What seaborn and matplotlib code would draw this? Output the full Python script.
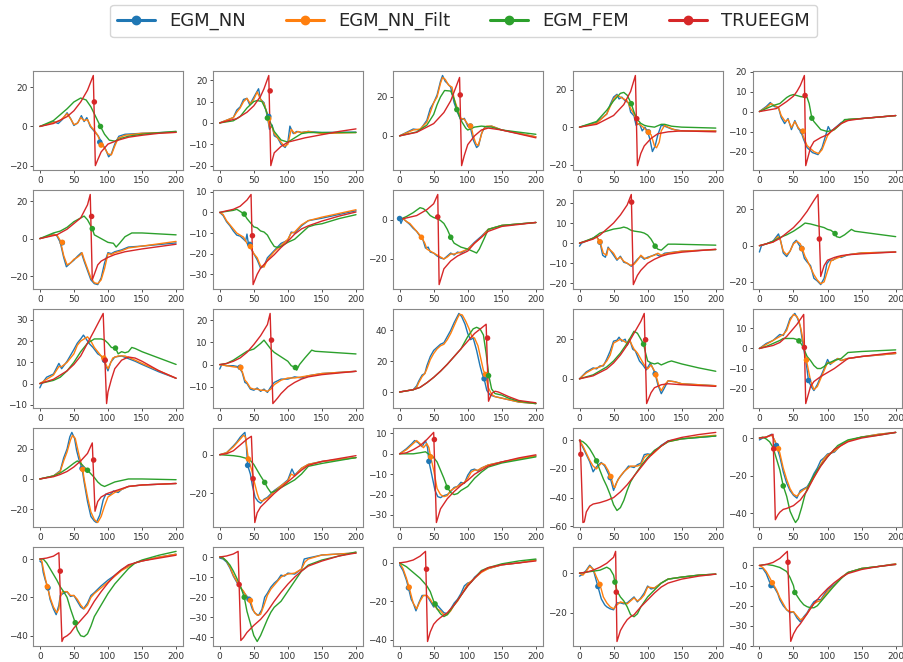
import numpy as np
import pandas as pd
import matplotlib.pyplot as plt
import seaborn as sns
from matplotlib.lines import Line2D

series = ["EGM_NN", "EGM_NN_Filt", "EGM_FEM", "TRUEEGM"]

# ---- row 1 ----
nn_11 = [(0, 0), (10, 1), (20, 2.5), (27, 1.5), (33, 3.5), (40, 7), (46, 3.5), (50, 0.5), (56, 2), (61, 5.5), (65, 2.5), (69, 4.5), (74, 0), (80, -2.5), (86, -5), (92, -9), (97, -12), (101, -15.5), (105, -14), (110, -9), (116, -5), (125, -4), (150, -3.5), (200, -2.8)]
filt_11 = [(0, 0), (10, 1), (20, 2), (30, 3), (40, 6.5), (45, 4), (50, 1), (55, 1.5), (60, 4.5), (65, 3), (70, 3.5), (75, 0), (80, -2), (85, -4.5), (90, -9), (95, -11), (100, -14), (105, -14.5), (110, -10), (115, -6), (125, -4.5), (150, -3.5), (200, -3)]
fem_11 = [(0, 0), (20, 3), (40, 9), (50, 12.5), (60, 14.5), (68, 13.5), (75, 10), (82, 5), (89, 0), (95, -4), (102, -7), (110, -7.5), (120, -6), (130, -5), (150, -4), (175, -3.2), (200, -2.5)]
true_11 = [(0, 0), (20, 1.5), (40, 5), (50, 8), (60, 12.5), (70, 18.5), (78.5, 26), (81.5, -20), (85, -17), (90, -13), (100, -9), (115, -7), (130, -5.5), (150, -4.5), (175, -3.5), (200, -3)]
marks_11 = [(88, -8), (90, -9.5), (89, 0), (80, 12.5)]
yticks_11 = [-20, 0, 20]

nn_12 = [(0, 0), (20, 2.5), (25, 6), (30, 7.5), (35, 11), (40, 11.5), (44, 8.5), (50, 12), (57, 16), (60, 11), (65, 9.5), (70, 3), (73, -3), (77, -1), (80, -6), (85, -7), (90, -10), (96, -11.5), (100, -9), (103, -1.5), (108, -5), (113, -4), (120, -4.5), (130, -4), (150, -4.5), (200, -4.3)]
filt_12 = [(0, 0), (20, 2.5), (25, 5), (30, 7), (35, 10), (40, 11.5), (45, 9), (50, 11), (55, 14.5), (60, 11), (65, 9), (70, 4), (73, -2), (77, -2), (80, -5), (85, -7), (90, -9), (95, -11), (100, -10), (105, -3), (110, -5), (115, -4), (120, -4.5), (130, -4), (150, -5), (200, -4.5)]
fem_12 = [(0, 0), (20, 1), (30, 3), (40, 7), (50, 10), (55, 10.5), (62, 10), (68, 6), (72, 2), (80, -4), (90, -8), (100, -9), (110, -7), (120, -5), (130, -4.5), (150, -4.5), (200, -4.5)]
true_12 = [(0, 0), (25, 2), (40, 5), (50, 8), (60, 12.5), (65, 16), (72, 22.2), (75, -20), (80, -14), (90, -11), (100, -9), (125, -7), (150, -5.5), (175, -4), (200, -2.8)]
marks_12 = [(72, 3), (72, 2), (70, 2.3), (74, 15)]
yticks_12 = [-20, -10, 0, 10, 20]

nn_13 = [(0, 0), (20, 3.5), (30, 3), (40, 8), (45, 14), (50, 17), (55, 21), (60, 28), (63, 31), (67, 28), (70, 27), (75, 25), (80, 17), (85, 12), (90, 8), (95, 9), (100, 5), (104, 4), (108, -2), (113, -6), (116, -5), (120, 1), (125, 4.5), (135, 5), (150, 3), (200, -0.5)]
filt_13 = [(0, 0), (20, 3), (30, 3.5), (40, 7), (45, 12), (50, 17), (55, 20), (60, 27), (63, 30), (67, 29), (72, 26), (77, 25), (80, 19), (85, 14), (90, 9), (95, 8.5), (100, 6), (105, 5), (108, 0), (112, -4), (115, -5), (118, -2), (122, 3), (128, 5), (135, 5), (150, 3), (200, -0.5)]
fem_13 = [(0, 0), (25, 2), (40, 5.5), (50, 11), (55, 16), (60, 20), (66, 23.3), (75, 23), (80, 19), (84, 13.5), (90, 8), (97, 4), (100, 3), (110, 4.5), (120, 5), (135, 4.5), (150, 3), (200, 0.8)]
true_13 = [(0, 0), (25, 1.8), (50, 6.3), (65, 12), (75, 18), (88, 30), (91, -15.3), (95, -10), (100, -4.5), (110, 0), (120, 3), (130, 4), (150, 3), (175, 1), (200, -1)]
marks_13 = [(104, 5), (104, 5), (84, 13.5), (89, 21)]
yticks_13 = [0, 20]

nn_14 = [(0, 0), (25, 2.5), (40, 7), (45, 12), (50, 16), (55, 17.5), (58, 15), (62, 16), (67, 14), (72, 13), (75, 8), (80, 6), (83, 1), (88, 2), (92, -2), (96, 0), (100, -2.5), (103, -6), (107, -13), (111, -10), (115, -4), (120, 1), (125, 0.5), (135, -1), (150, -2), (200, -2)]
filt_14 = [(0, 0), (25, 2), (40, 7), (45, 11), (50, 15), (55, 17), (60, 16), (65, 15), (70, 14), (75, 10), (80, 7), (85, 2), (90, 1), (95, -0.5), (100, -2.5), (105, -4), (110, -10), (113, -11), (117, -8), (120, -2), (125, 1), (130, 0), (140, -1.5), (150, -2), (200, -2)]
fem_14 = [(0, 0), (25, 3), (40, 9), (50, 14), (60, 18), (65, 18.5), (70, 17), (76, 12.5), (80, 8), (85, 4), (90, 2), (95, 1), (100, 0.5), (110, 0), (120, 1.5), (125, 1.5), (135, 0.5), (150, 0), (200, -0.5)]
true_14 = [(0, 0), (25, 1.5), (50, 6.2), (65, 12), (75, 19), (82, 27.5), (85, -20.5), (90, -14), (95, -10), (105, -6), (115, -3.5), (130, -2.5), (150, -2), (200, -2.5)]
marks_14 = [(101, -2.5), (101, -2.7), (76, 12.5), (84, 4.5)]
yticks_14 = [-20, 0, 20]

nn_15 = [(0, 0), (10, 2.5), (16, 4.5), (22, 2.5), (28, 2), (32, -3), (37, -6), (42, -3.5), (47, -9), (52, -4.5), (57, -8.5), (61, -10), (65, -14), (70, -18), (78, -20.5), (86, -21.5), (92, -18), (98, -11), (101, -7.5), (105, -10), (110, -8.5), (120, -5.5), (130, -4), (150, -3.5), (200, -2)]
filt_15 = [(0, 0), (10, 2), (17, 4), (22, 3), (28, 2), (32, -2), (38, -5), (42, -4), (47, -8), (52, -5), (57, -8), (62, -10), (65, -13), (70, -17), (80, -20), (87, -21), (92, -19), (100, -12), (105, -10), (110, -9), (120, -6), (130, -4), (150, -3.5), (200, -2)]
fem_15 = [(0, 0), (20, 3), (30, 4), (40, 7), (45, 8), (50, 8.5), (60, 7.5), (70, 7), (73, 4), (77, -3.3), (80, -5), (90, -9), (100, -10), (110, -9), (120, -6), (125, -4), (150, -3.5), (200, -2)]
true_15 = [(0, 0), (25, 1.5), (40, 5), (50, 7.7), (55, 10), (60, 13), (66, 18), (68, -27), (75, -18), (80, -15), (90, -13), (100, -11.5), (110, -8.5), (120, -6), (130, -4.5), (150, -3.5), (200, -2)]
marks_15 = [(63, -10), (64, -9.8), (77, -3.3), (67, 8)]
yticks_15 = [-20, -10, 0, 10, 20]

# ---- row 2 ----
nn_21 = [(0, 0), (10, 1), (20, 2.5), (25, 1.5), (30, -2), (35, -10), (39, -15), (45, -13), (50, -11.5), (55, -9.5), (61, -7.5), (65, -12), (70, -17), (75, -22), (80, -24), (85, -24.5), (90, -21), (95, -13), (100, -7.5), (105, -8), (110, -7), (120, -6), (130, -4.5), (150, -4), (200, -2.3)]
filt_21 = [(0, 0), (10, 1), (20, 2), (25, 2), (30, -1), (35, -9), (40, -14), (45, -13), (50, -11), (55, -10), (60, -8.5), (62, -7.5), (65, -11), (70, -16), (75, -21), (80, -23.5), (85, -24), (90, -22), (95, -16), (100, -8), (105, -8.5), (110, -7.5), (120, -6.5), (130, -5), (150, -4), (200, -1.5)]
fem_21 = [(0, 0), (20, 3), (30, 4), (40, 6), (50, 9), (60, 11), (65, 12), (70, 10), (73, 8), (77, 5.3), (80, 2), (90, 0), (100, -2), (108, -2.5), (112, -4.5), (117, -2.5), (125, 1), (135, 3), (150, 3), (200, 2)]
true_21 = [(0, 0), (25, 2), (40, 5), (50, 8), (60, 11), (70, 18), (74, 23.5), (77, -22), (85, -14), (90, -12), (100, -10), (110, -8.5), (125, -7), (150, -5.5), (200, -3)]
marks_21 = [(33, -2.2), (33, -2), (77, 5.3), (76, 11.8)]
yticks_21 = [-20, 0, 20]

nn_22 = [(0, 0), (5, -1.5), (10, -4.5), (15, -6.5), (20, -9), (25, -11), (30, -11.5), (35, -13), (38, -14), (40, -10.5), (42, -15), (45, -17), (50, -20), (55, -23), (60, -27), (65, -26), (70, -22), (80, -18.5), (90, -15), (100, -13.5), (105, -9.5), (110, -10), (120, -6.5), (130, -4), (150, -2.8), (200, 0.8)]
filt_22 = [(0, 0), (5, -1), (10, -4), (15, -6), (20, -8), (25, -10), (30, -11), (35, -12), (40, -15), (45, -16.5), (50, -20), (55, -22), (60, -26), (65, -26.5), (70, -23), (80, -19), (90, -16), (100, -13), (105, -10), (110, -9.5), (120, -6), (130, -4), (150, -2.3), (175, -0.5), (200, 1.3)]
fem_22 = [(0, 0), (10, 0.5), (20, 1), (25, 1.5), (30, 0.5), (36, -0.8), (40, -3), (45, -5), (50, -7), (55, -7.5), (60, -9), (65, -9.5), (70, -11), (75, -14), (80, -16.5), (85, -17), (90, -16.5), (95, -15.5), (100, -14.5), (110, -13), (120, -10), (130, -7), (140, -6), (150, -5.5), (175, -3), (200, -1.1)]
true_22 = [(0, 0), (20, 1.5), (30, 3), (40, 6), (46, 8.7), (49, -35), (55, -30), (60, -27), (70, -23.5), (80, -20.5), (90, -17), (100, -14), (110, -10.5), (120, -8), (130, -6.5), (150, -4.2), (175, -1.8), (200, 0.2)]
marks_22 = [(44, -15.5), (45, -16.5), (36, -0.8), (48, -11.3)]
yticks_22 = [-30, -20, -10, 0, 10]

nn_23 = [(0, 0.5), (2, -2), (5, 0.5), (10, -1), (15, -2.5), (20, -4.5), (25, -6), (30, -8.5), (34, -10), (38, -14.5), (42, -14), (45, -16.5), (50, -17), (55, -18.5), (60, -19.5), (65, -20), (70, -18.5), (75, -17), (80, -18), (85, -16.5), (90, -17), (100, -15), (110, -11.5), (120, -8.5), (130, -5), (150, -3), (200, -1.5)]
filt_23 = [(0, 0), (5, 0.5), (10, -1), (15, -2), (20, -4), (25, -6), (30, -8), (33, -9.5), (37, -12), (40, -15), (45, -16), (50, -17), (55, -18), (60, -19), (65, -20), (70, -19), (75, -17.5), (80, -17.5), (90, -16.5), (100, -15), (110, -12), (120, -9), (130, -5), (150, -3), (200, -1.5)]
fem_23 = [(0, 0), (10, 1.5), (20, 3.5), (30, 6), (35, 5.5), (40, 4), (45, 2), (50, 1), (55, 0.5), (60, -0.5), (65, -2), (70, -5), (75, -9), (80, -12), (90, -14), (100, -15), (110, -16.5), (113, -17), (117, -15), (125, -9), (130, -5), (140, -4), (150, -3), (200, -1.5)]
true_23 = [(0, 0), (25, 2), (40, 5), (50, 8), (56, 12.7), (58, -33), (65, -25), (75, -21), (85, -18.5), (100, -16), (110, -12), (120, -9), (130, -6), (150, -3.5), (200, -1.5)]
marks_23 = [(0, 0.5), (32, -9), (75, -9), (56, 1.3)]
yticks_23 = [-20, 0]

nn_24 = [(0, -1.5), (3, 0), (10, 1), (20, 2.5), (25, 3.5), (30, 0.5), (34, -6), (38, -7), (42, -2), (46, -4), (50, -6), (55, -8.5), (60, -6.5), (65, -9.5), (70, -10), (76, -11.5), (80, -10), (85, -8), (90, -6.5), (95, -8), (100, -7), (105, -6.5), (112, -5.5), (118, -6.5), (125, -5), (150, -4), (200, -3.2)]
filt_24 = [(0, 0), (10, 1), (20, 2.5), (25, 3), (30, 0.7), (35, -5), (40, -6), (42, -2.5), (47, -4), (50, -5), (55, -8), (60, -7), (65, -9), (70, -10), (75, -11), (80, -10.5), (85, -8.5), (90, -6), (95, -7.5), (100, -7.5), (105, -6.5), (110, -6), (115, -5), (120, -6), (130, -5), (150, -4), (200, -3.2)]
fem_24 = [(0, 0), (20, 2.5), (30, 5), (40, 6), (50, 7), (60, 7.5), (65, 8), (70, 7.5), (75, 6.5), (80, 6), (90, 5.5), (95, 5), (100, 4), (105, 2), (111, -1.5), (115, -3), (120, -3.5), (125, -2), (130, -0.5), (140, -0.5), (200, -1)]
true_24 = [(0, 0), (20, 2), (30, 4), (40, 7), (50, 10), (60, 14), (70, 19), (76, 24.2), (79, -20.6), (85, -16), (90, -13.5), (100, -10), (110, -8), (120, -6.5), (130, -5.5), (150, -4.5), (200, -3)]
marks_24 = [(30, 0.5), (30, 0.7), (111, -1.5), (76.5, 20.4)]
yticks_24 = [-20, -10, 0, 10, 20]

nn_25 = [(0, -3.5), (3, 0), (10, 1), (20, 2.5), (28, 6.5), (31, 3), (35, -4), (40, -6), (45, -3), (50, 1.5), (54, 3), (58, 0.5), (62, -1.5), (66, -7), (70, -9), (75, -11), (80, -18), (85, -19.5), (90, -21.5), (95, -18), (99, -10), (103, -8), (108, -8), (115, -6), (120, -6.5), (130, -5), (150, -4), (200, -3.5)]
filt_25 = [(0, 0), (10, 1), (20, 2), (27, 5), (30, 4), (35, -3), (40, -5), (45, -3), (50, 1), (55, 2.5), (60, 1), (63, -1.7), (67, -6), (70, -8), (75, -12), (80, -16), (85, -19), (90, -21), (95, -20), (100, -14), (105, -8.5), (110, -7.5), (120, -6), (130, -5), (150, -4), (200, -3.5)]
fem_25 = [(0, 0), (10, 1), (20, 2.5), (30, 4.5), (40, 6), (50, 8), (60, 10.5), (67, 12.5), (75, 12), (85, 11), (95, 10), (100, 9), (105, 8.5), (111, 6.7), (113, 5), (118, 4.5), (125, 6), (130, 7.5), (135, 9), (140, 8), (160, 7), (180, 6), (200, 5)]
true_25 = [(0, 0), (20, 2), (30, 4), (40, 7), (50, 10), (60, 14), (70, 19), (80, 25), (86, 28.3), (90, -17), (95, -11), (100, -8), (110, -6.5), (120, -5.5), (130, -5), (150, -4.5), (200, -3.5)]
marks_25 = [(62, -1.5), (62.5, -1.7), (111, 6.7), (88, 3.7)]
yticks_25 = [-20, 0, 20]

# ---- row 3 ----
nn_31 = [(0, -2), (3, 0), (10, 3), (20, 4.5), (28, 9.5), (32, 7), (40, 10.5), (50, 16), (55, 19), (60, 21), (64, 22.8), (68, 21), (72, 19), (78, 17), (85, 14), (90, 13), (95, 10), (100, 6), (104, 10), (110, 12.5), (120, 13), (140, 10.5), (150, 9), (175, 5.5), (200, 2.5)]
filt_31 = [(0, 0), (10, 2), (20, 4), (28, 8), (32, 8), (40, 10), (50, 14), (55, 18), (60, 20), (65, 21), (70, 22), (75, 20), (80, 17), (85, 15), (90, 13), (94, 12), (97, 9), (100, 7), (103, 9), (107, 12), (115, 13), (125, 13), (140, 11), (150, 9.5), (175, 6), (200, 2.5)]
fem_31 = [(0, 0), (20, 1.5), (30, 3), (40, 6), (50, 10), (60, 15), (70, 19), (80, 21), (90, 21), (95, 20.5), (100, 19), (105, 17), (111, 16.7), (115, 14), (120, 15), (125, 14.5), (130, 15), (135, 17), (140, 16.5), (150, 15), (175, 12), (200, 9)]
true_31 = [(0, 0), (20, 2), (30, 4), (40, 6), (50, 9), (60, 13), (70, 19), (80, 25), (93, 33), (98, -9.4), (100, -4), (105, 2), (110, 7), (120, 11), (130, 12.5), (140, 12), (150, 10.5), (175, 6), (200, 2.5)]
marks_31 = [(95, 11), (94, 12), (111, 16.7), (96, 11)]
yticks_31 = [-10, 0, 10, 20, 30]

nn_32 = [(0, -2), (3, 0), (10, -0.5), (20, -0.5), (28, -1), (33, -3.5), (37, -8), (40, -8.5), (45, -11), (50, -11.5), (55, -10.5), (60, -12), (65, -11), (70, -12.5), (75, -10), (80, -8), (90, -6.5), (100, -6.5), (110, -5.5), (120, -6), (130, -5), (150, -4), (200, -3)]
filt_32 = [(0, 0), (10, -0.5), (20, -1), (28, -1.3), (33, -3), (37, -7), (40, -8), (45, -10.5), (50, -11), (55, -11), (60, -11.5), (65, -11.5), (70, -12), (75, -11), (80, -9), (90, -7), (100, -6), (110, -6), (120, -5.5), (130, -5), (150, -4), (200, -3)]
fem_32 = [(0, 0), (10, 0.5), (20, 2), (30, 4), (40, 6), (50, 7), (60, 9.5), (65, 11), (70, 9), (75, 7), (80, 5.5), (90, 3.5), (100, 1.5), (105, -0.5), (111, -1.3), (113, -2.5), (117, 0), (125, 3), (135, 6.5), (140, 6), (150, 5.8), (200, 4.8)]
true_32 = [(0, 0), (10, 0.5), (20, 1.5), (30, 3), (40, 5.5), (50, 9), (60, 13), (70, 18), (74, 23), (78, -17.5), (85, -15), (90, -13), (100, -10), (110, -8), (120, -6.5), (130, -5.5), (150, -4.5), (200, -3)]
marks_32 = [(30, -1.2), (31, -1.3), (111, -1.3), (76, 11)]
yticks_32 = [-10, 0, 10, 20]

nn_33 = [(0, 0), (20, 1.5), (25, 4), (28, 7), (33, 11), (37, 12), (40, 17), (45, 23), (50, 27), (55, 29), (60, 31), (65, 32), (70, 36), (75, 40), (80, 45), (87, 51), (91, 49), (96, 44), (100, 38), (104, 34), (108, 35), (113, 27), (118, 17), (121, 12), (124, 8.6), (128, 1), (133, -2), (140, -3), (150, -4), (175, -6.5), (200, -7.5)]
filt_33 = [(0, 0), (20, 1.5), (25, 3), (28, 6), (33, 10), (37, 12), (40, 15), (45, 21), (50, 25), (55, 28), (60, 30), (65, 31), (70, 34), (75, 38), (80, 43), (85, 48), (88, 50.5), (92, 50), (97, 46), (102, 41), (106, 36), (110, 35), (115, 30), (120, 20), (123, 14), (126, 11.4), (130, 3), (135, -1.5), (140, -3), (150, -4), (160, -5), (175, -6.5), (200, -7.5)]
fem_33 = [(0, 0), (20, 1.5), (30, 3), (40, 6), (50, 9.5), (60, 13.5), (70, 18), (80, 23), (90, 28), (100, 36), (108, 41), (113, 42), (118, 41), (123, 37), (127, 25), (131, 10.5), (135, 2), (140, -1), (150, -2), (160, -4), (175, -6), (200, -7.5)]
true_33 = [(0, 0), (20, 1.5), (30, 3), (40, 6), (50, 9.5), (60, 13.5), (70, 18), (80, 23), (90, 28), (100, 33), (110, 38), (120, 41.5), (127, 44), (130.5, -6), (135, -1), (140, 0.5), (145, 0), (150, -1), (160, -3), (175, -5.5), (200, -7)]
marks_33 = [(124, 8.6), (126, 11.4), (130.5, 10.6), (129, 35)]
yticks_33 = [0, 20, 40]

nn_34 = [(0, 0), (10, 3.5), (20, 5.5), (25, 5), (30, 6.5), (35, 6.5), (40, 10), (45, 14), (50, 19), (55, 19.5), (58, 21), (62, 19), (67, 20), (70, 17), (74, 19.5), (78, 15), (82, 14), (88, 9), (93, 7), (98, 4.5), (104, 8), (108, 5), (111, 2.5), (115, -3), (120, -7.5), (124, -5), (130, -1), (140, -1.5), (150, -2.5), (200, -3.5)]
filt_34 = [(0, 0), (10, 3), (20, 5), (25, 5.5), (30, 6), (35, 7), (40, 9), (45, 12), (50, 18), (55, 19), (60, 20), (65, 19), (70, 18), (73, 20), (77, 17), (80, 15), (85, 13), (90, 10), (95, 7), (100, 5), (105, 7), (110, 4), (112, 2), (117, -4), (120, -6), (125, -3), (130, -1), (140, -1.5), (150, -2.5), (200, -3.5)]
fem_34 = [(0, 0), (20, 2), (30, 4), (40, 6), (50, 9), (60, 13), (70, 18), (75, 21), (80, 24), (85, 23), (90, 20), (94, 17.5), (97, 13), (100, 9), (105, 8), (110, 7.5), (115, 8), (120, 7), (130, 8.5), (135, 9), (150, 7.5), (175, 5.5), (200, 3.8)]
true_34 = [(0, 0), (20, 1.5), (40, 5), (50, 8), (60, 12), (70, 17), (80, 23), (90, 29), (95, 33), (98.5, -12.5), (105, -7), (110, -4.5), (120, -3), (130, -2.5), (150, -3), (200, -3.8)]
marks_34 = [(111, 2.5), (112, 2), (94, 17.5), (97, 19.7)]
yticks_34 = [0, 20]

nn_35 = [(0, 0), (10, 2.5), (20, 4), (30, 7), (35, 6.5), (40, 10), (45, 15), (52, 17.5), (56, 15), (60, 11), (63, 4), (66, -2), (69, -8), (72, -16), (76, -19), (80, -21), (85, -18), (90, -14), (95, -10), (100, -5.5), (104, -8), (110, -6), (115, -5), (120, -6), (130, -5), (150, -4), (200, -2.5)]
filt_35 = [(0, 0), (10, 2), (20, 4), (30, 6), (35, 7), (40, 9), (45, 14), (50, 17), (55, 16), (58, 14), (62, 8), (65, 2), (67, -3), (69, -5.8), (75, -16), (80, -20.5), (85, -19), (90, -15), (95, -11), (100, -7), (105, -7.5), (110, -6.5), (115, -5), (120, -6), (130, -5), (150, -4), (200, -2.5)]
fem_35 = [(0, 0), (10, 1), (20, 2.5), (30, 4), (35, 5), (40, 5), (50, 5), (55, 4.5), (58, 3.8), (62, 2), (65, 0), (70, -4), (75, -6), (80, -8.5), (85, -10), (90, -10), (95, -9), (100, -7.5), (110, -6), (120, -5), (130, -2), (150, -1.5), (200, -0.7)]
true_35 = [(0, 0), (20, 1.5), (30, 3), (40, 6), (50, 10), (55, 12), (60, 14.5), (65, 17), (68, -27.5), (75, -19), (80, -16.5), (90, -14), (100, -12), (110, -10), (120, -7.5), (130, -5), (150, -4), (175, -3), (200, -2)]
marks_35 = [(72, -16), (69, -5.8), (58, 3.8), (66, 0.5)]
yticks_35 = [-20, -10, 0, 10]

# ---- row 4 ----
nn_41 = [(0, 0), (20, 2), (30, 5.5), (35, 14), (40, 20), (44, 28), (47, 31), (51, 27), (54, 19), (58, 12), (62, 7), (65, -2), (70, -15), (75, -25), (80, -28), (83, -29), (88, -24), (93, -14), (97, -10), (103, -10.5), (108, -8), (115, -9), (120, -7), (130, -5), (150, -4), (200, -3)]
filt_41 = [(0, 0), (20, 2), (30, 5), (35, 12), (40, 18), (45, 26), (48, 29), (52, 27), (55, 21), (58, 15), (63, 6.4), (65, 0), (70, -12), (75, -22), (80, -27), (85, -29), (90, -25), (95, -18), (100, -12), (110, -9), (120, -7), (130, -5), (150, -4), (200, -3)]
fem_41 = [(0, 0), (20, 2), (30, 4), (40, 7), (50, 10.5), (55, 12), (60, 10.5), (65, 8), (70, 5.8), (80, 1), (85, -2), (90, -4), (95, -5), (100, -4), (110, -2), (120, -1), (130, 0), (150, 0), (200, -0.5)]
true_41 = [(0, 0), (20, 1.5), (30, 3), (40, 5), (50, 8), (60, 12), (70, 17), (77, 24), (81, -21.5), (85, -15), (90, -12), (100, -9.5), (110, -8), (120, -6.5), (130, -5), (150, -4), (200, -3)]
marks_41 = [(62, 7), (63, 6.4), (70, 5.8), (79, 12.6)]
yticks_41 = [-20, 0, 20]

nn_42 = [(0, 0), (10, 1), (20, 4.5), (25, 6.5), (30, 9), (34, 10.5), (37, 11.5), (39, 5), (41, -5.5), (45, -10), (48, -16), (52, -22), (56, -24), (60, -25), (65, -23), (70, -22), (80, -18.5), (90, -16), (100, -13), (106, -7.4), (110, -10.5), (120, -7), (130, -5), (150, -3.5), (200, -1.5)]
filt_42 = [(0, 0), (10, 1), (20, 4), (25, 6), (30, 8), (35, 10), (38, 9), (40, 3), (42, -2.2), (47, -8), (50, -13), (55, -20), (58, -23), (62, -24), (67, -23), (72, -22), (80, -19), (90, -16), (100, -13.5), (105, -10), (110, -11), (120, -7), (130, -5), (150, -3.5), (200, -1.5)]
fem_42 = [(0, 0), (20, -0.5), (30, -1), (40, -2), (45, -3), (50, -5), (55, -8), (60, -11), (66, -14.3), (70, -17), (75, -19.5), (80, -19), (90, -17), (100, -15), (110, -13), (120, -10), (130, -6), (150, -4.5), (175, -3), (200, -1.5)]
true_42 = [(0, 0), (10, 0.5), (20, 2), (30, 5), (40, 8), (46.5, 9.5), (51.5, -35), (55, -30), (60, -27), (70, -23.5), (80, -20), (90, -17), (100, -14), (110, -11), (120, -8), (130, -5.5), (150, -3.5), (175, -2), (200, -0.5)]
marks_42 = [(41, -5.5), (42, -2.2), (66, -14.3), (49, -12.4)]
yticks_42 = [-20, 0]

nn_43 = [(0, 0), (10, 2.5), (18, 5), (22, 6.5), (27, 5.5), (33, 3.5), (38, 6.5), (41, 3), (43, -3.7), (47, -10), (52, -18), (56, -21), (60, -21.5), (65, -20.5), (70, -20), (75, -18.5), (80, -16.5), (85, -16), (90, -14), (95, -14.5), (100, -10.5), (105, -8), (110, -7.5), (115, -8.5), (120, -7), (130, -5.5), (150, -4), (175, -2.5), (200, -1)]
filt_43 = [(0, 0), (10, 2), (20, 5), (25, 6.5), (30, 5), (35, 3), (40, 5), (43, 3), (45.6, -1.5), (50, -8), (55, -17), (60, -20), (65, -21), (70, -20.5), (75, -18), (80, -17), (85, -16), (90, -15), (95, -14), (100, -12), (105, -9), (110, -8), (115, -8), (120, -7), (130, -5.5), (150, -4), (175, -2.5), (200, -1)]
fem_43 = [(0, 0), (20, 0), (30, 0.5), (38, 1), (42, 0), (48, -1), (55, -4), (60, -8), (65, -12), (70, -16.5), (75, -19), (80, -20), (85, -19.5), (90, -18), (100, -16), (110, -12), (120, -9), (130, -6.5), (150, -4.5), (175, -3), (200, -1.5)]
true_43 = [(0, 0), (10, 0.5), (20, 2), (30, 4), (40, 7), (50, 10.5), (54, -33.7), (60, -27), (70, -22), (80, -18.5), (90, -15.5), (100, -13), (110, -10), (120, -8), (130, -6), (150, -4), (175, -2), (200, -0.5)]
marks_43 = [(43, -3.7), (45.6, -1.5), (70, -16.5), (51, 7)]
yticks_43 = [-30, -20, -10, 0, 10]

nn_44 = [(0, 0), (5, -5), (10, -10), (15, -15), (20, -22), (24, -19), (28, -17), (32, -15.5), (37, -18), (42, -23), (45, -26), (50, -35), (53, -31), (57, -27), (62, -24), (67, -21), (72, -18), (80, -19), (85, -17), (90, -16), (95, -10), (100, -9.5), (105, -10), (110, -8), (120, -3.5), (130, -0.5), (150, 1), (175, 2), (200, 3)]
filt_44 = [(0, 0), (5, -4), (10, -9), (15, -14), (20, -18), (25, -20), (28, -18), (32, -16), (37, -17), (42, -21), (46, -25.3), (50, -32), (52, -33), (55, -29), (60, -25), (65, -22), (70, -20), (75, -18), (85, -18), (90, -17), (95, -12), (100, -10), (105, -10.5), (110, -8.5), (120, -4), (130, -1), (150, 1), (175, 2.5), (200, 3.5)]
fem_44 = [(0, 0), (5, -1), (10, -3), (15, -6), (20, -10), (25, -14.4), (30, -21), (35, -27), (40, -32), (45, -38), (50, -45), (55, -49), (60, -47), (65, -42), (70, -35), (75, -29), (80, -25), (90, -18), (100, -12), (110, -7), (120, -4), (130, -1), (150, 1), (175, 2), (200, 3)]
true_44 = [(0, 0), (1, 0.3), (5, -57.4), (7, -57), (10, -50), (15, -46), (20, -44.5), (30, -43.5), (40, -42), (50, -40), (60, -36), (70, -31), (80, -25), (90, -19), (100, -13), (110, -8), (120, -4), (130, -0.5), (150, 2), (175, 4), (200, 5.5)]
marks_44 = [(45, -26), (46, -25.3), (25, -14.4), (2, -9.8)]
yticks_44 = [-60, -40, -20, 0]

nn_45 = [(0, -1), (5, 0), (10, 0.5), (18, 2), (22, -1), (25, -4), (30, -10), (35, -18), (40, -24), (45, -28), (50, -30.5), (55, -32), (60, -28), (65, -27), (70, -26), (75, -23), (80, -19), (85, -16), (90, -12), (95, -10.5), (100, -8.5), (110, -7.5), (120, -3.5), (130, -1.5), (150, 0.5), (175, 2), (200, 3)]
filt_45 = [(0, 0), (10, 0.5), (18, 1.5), (22, -1), (28, -5.7), (30, -8), (35, -16), (40, -22), (45, -27), (50, -30), (55, -31), (60, -29), (65, -27.5), (70, -26.5), (75, -24), (80, -21), (85, -17.5), (90, -14), (95, -11), (100, -9), (110, -7), (120, -4), (130, -1.5), (150, 0.5), (175, 2), (200, 3)]
fem_45 = [(0, 0), (5, 0.5), (10, -0.5), (15, -2), (20, -5), (25, -11), (30, -17), (35, -25.5), (40, -31), (45, -39), (50, -43), (53, -45), (57, -43), (62, -37), (67, -30), (75, -23), (85, -17), (100, -10), (115, -4), (130, -1), (150, 0.5), (175, 1.5), (200, 3)]
true_45 = [(0, 0), (10, 0.5), (20, 2), (23.4, -43.5), (27, -41), (30, -39.5), (35, -38), (40, -37.5), (50, -36), (60, -33), (70, -28), (80, -21), (90, -15), (100, -10), (110, -6), (120, -4), (130, -2), (150, 0), (175, 1.5), (200, 3)]
marks_45 = [(25, -4), (28, -5.7), (35, -25.5), (21, -5.8)]
yticks_45 = [-40, -20, 0]

# ---- row 5 ----
nn_51 = [(0, -1), (3, -2), (5, -7), (8, -11), (12, -15), (15, -21), (20, -26), (24, -29), (28, -24), (30, -19), (34, -18), (40, -17), (45, -19.5), (50, -19), (55, -22), (60, -25), (64, -26), (70, -23), (75, -19), (80, -17.5), (90, -14), (100, -11), (110, -8.5), (120, -5.5), (130, -3.5), (140, -2), (150, -1), (175, 1), (200, 2.5)]
filt_51 = [(0, 0), (3, -1), (5, -5), (8, -10), (11, -14.4), (15, -20), (20, -25), (25, -28), (28, -26), (30, -20), (33, -17), (40, -17), (45, -19), (50, -19), (55, -21), (60, -24), (65, -26), (70, -24), (75, -20), (80, -18), (90, -15), (100, -12), (110, -9), (120, -6), (130, -4), (140, -2), (150, -1), (175, 1), (200, 2.5)]
fem_51 = [(0, 0), (5, 0), (10, -2), (15, -5), (20, -8), (25, -11), (30, -14.5), (35, -17), (40, -20), (45, -26), (52, -33.2), (55, -37), (60, -40), (65, -40.5), (70, -39), (75, -35), (80, -30), (90, -24), (100, -18), (110, -13), (120, -9), (130, -5), (140, -2), (150, -0.5), (175, 2), (200, 4)]
true_51 = [(0, 0), (10, 0.5), (20, 1.5), (28, 3.3), (32.5, -43), (35, -41), (40, -40), (45, -38.5), (50, -36), (60, -32), (70, -28), (80, -22), (90, -17), (100, -12.5), (110, -8.5), (120, -5.5), (130, -3), (140, -2), (150, -1), (175, 0.5), (200, 2)]
marks_51 = [(12, -15), (11, -14.4), (52, -33.2), (30, -6.3)]
yticks_51 = [-40, -20, 0]

nn_52 = [(0, -0.5), (5, -1), (10, -2.5), (15, -5.5), (20, -9.5), (25, -12.5), (30, -15), (35, -17.5), (40, -19.5), (43, -21), (48, -26), (52, -28), (57, -29), (62, -26), (66, -20), (70, -18), (75, -15), (80, -13), (85, -11.5), (90, -9), (95, -9.5), (100, -8), (110, -8.5), (120, -6), (124, -1), (130, -0.5), (150, 1), (175, 1.5), (200, 2)]
filt_52 = [(0, 0), (5, -0.5), (10, -2), (15, -5), (20, -9), (25, -12), (30, -15), (35, -17), (40, -20), (45, -21.6), (50, -27), (55, -29), (60, -28.5), (65, -24), (70, -19), (75, -16), (80, -14), (85, -12), (90, -10), (95, -9), (100, -8.5), (110, -8), (120, -6), (125, -2.5), (130, -1), (150, 1), (175, 1.5), (200, 2)]
fem_52 = [(0, 0), (5, -0.5), (10, -2), (15, -4), (20, -7), (25, -10.5), (30, -14), (36, -20), (40, -27), (45, -33), (50, -39), (55, -42), (60, -39), (65, -35), (70, -31), (75, -27.5), (80, -25), (90, -22), (100, -17), (110, -12), (120, -7), (130, -4), (150, -1.5), (175, 0.5), (200, 2.5)]
true_52 = [(0, 0), (10, 0.5), (20, 1.5), (27, 2.8), (31, -41.5), (35, -40), (40, -37.5), (50, -34), (60, -31), (70, -27), (80, -22), (90, -17.5), (100, -13.5), (110, -10), (120, -7), (130, -4.5), (150, -2), (175, 0.5), (200, 2)]
marks_52 = [(43, -21), (45, -21.6), (36, -20), (28.5, -13.7)]
yticks_52 = [-40, -30, -20, -10, 0]

nn_53 = [(0, -1), (5, -4), (10, -9), (13, -13), (17, -19), (20, -21), (24, -25), (28, -21), (33, -17), (40, -17), (45, -20), (50, -23), (55, -22), (60, -24), (65, -26), (70, -26.5), (75, -24), (80, -21), (85, -19), (90, -16), (95, -12), (100, -10.5), (105, -10), (110, -7.5), (120, -4.5), (130, -3), (150, -1), (175, 0), (200, 1.5)]
filt_53 = [(0, 0), (5, -3), (10, -8), (14, -12.7), (17, -17), (20, -21), (25, -24), (30, -20), (35, -17), (40, -17), (45, -19), (50, -22), (55, -24), (60, -25), (65, -27), (70, -27), (75, -25), (80, -22), (85, -20), (90, -17), (95, -14), (100, -11), (110, -8), (120, -5), (130, -3), (150, -1), (175, 0), (200, 1.5)]
fem_53 = [(0, 0), (10, -2), (20, -5), (30, -8), (40, -12), (45, -15), (50, -20), (52, -21.4), (55, -24), (60, -26.5), (65, -28), (70, -27), (80, -22), (90, -17), (100, -12), (110, -8), (120, -4), (130, -2.5), (150, -0.5), (175, 1), (200, 2)]
true_53 = [(0, 0), (10, 0.5), (20, 1.5), (30, 3.5), (38, 6), (41, -41), (45, -36), (50, -32), (55, -30), (60, -28.5), (70, -26), (80, -22), (90, -17), (100, -12), (110, -8), (120, -4.5), (130, -2.5), (150, -1), (175, 0), (200, 1)]
marks_53 = [(13, -13), (14, -12.7), (52, -21.4), (39.5, -3.3)]
yticks_53 = [-40, -20, 0]

nn_54 = [(0, -1.5), (5, -0.5), (10, 1.5), (15, 4), (20, 2), (24, -3), (27, -6.7), (32, -13), (37, -16), (40, -17), (45, -18), (50, -18.5), (55, -15), (60, -15), (65, -15.5), (70, -15), (75, -13.5), (80, -12), (85, -14.5), (90, -12.5), (95, -10), (100, -6.5), (105, -8), (110, -7.5), (120, -5), (130, -3), (150, -2), (175, -1), (200, -0.5)]
filt_54 = [(0, 0), (5, -1), (10, 1), (15, 3.5), (20, 2), (25, -2), (30, -5.7), (35, -12), (40, -15), (45, -17), (50, -18), (55, -16), (60, -14.5), (65, -15), (70, -15.5), (75, -14), (80, -12.5), (85, -14), (90, -13), (95, -11), (100, -7), (110, -7.5), (120, -5), (130, -3), (150, -2), (175, -1), (200, -0.5)]
fem_54 = [(0, 0), (10, 0.5), (20, 1), (30, 1.5), (40, 3), (45, 2), (50, -1), (52, -4.5), (55, -9), (60, -12), (65, -14), (70, -17), (75, -21), (80, -22), (85, -20.5), (90, -17), (100, -12), (110, -8.5), (120, -5), (130, -3), (150, -2), (175, -1), (200, -0.5)]
true_54 = [(0, 0), (10, 0.5), (20, 1.5), (30, 3), (40, 5), (50, 8), (53, 11), (55, -34.5), (60, -29), (65, -26), (70, -23.5), (75, -22), (80, -21), (90, -17), (100, -13.5), (110, -10), (120, -7), (130, -5), (150, -3), (175, -1.5), (200, -0.5)]
marks_54 = [(27, -6.7), (30, -5.7), (52, -4.5), (54, -9.6)]
yticks_54 = [-20, 0]

nn_55 = [(0, -1.5), (5, -1.5), (10, -4), (17, -10), (22, -11), (27, -14), (30, -17), (35, -20), (40, -22), (45, -23.5), (50, -23), (55, -26), (60, -28), (65, -25.5), (70, -23.5), (75, -20.5), (80, -18), (85, -17), (90, -17), (100, -12), (110, -9.5), (120, -6), (130, -3.5), (150, -1.5), (175, -0.5), (200, 0.8)]
filt_55 = [(0, 0), (5, -1), (10, -3), (15, -6), (19, -8.6), (25, -12), (30, -16), (35, -19), (40, -22), (45, -23), (50, -23), (55, -25), (60, -27), (65, -26), (70, -24), (75, -21), (80, -19), (85, -18), (90, -17.5), (100, -13), (110, -10), (120, -6), (130, -3.5), (150, -1.5), (175, -0.5), (200, 0.8)]
fem_55 = [(0, 0), (10, 0.5), (20, 0), (30, -1), (40, -3), (45, -6), (50, -10), (52, -13.4), (57, -16), (60, -17.5), (65, -19.5), (70, -20.5), (75, -21), (80, -21), (85, -20), (90, -18), (100, -14), (110, -10), (120, -6.5), (130, -3.5), (150, -1.5), (175, -0.5), (200, 0.5)]
true_55 = [(0, 0), (10, 0.5), (20, 1.5), (30, 3.5), (41, 7), (46, -37.7), (50, -34), (55, -31), (60, -29), (70, -24), (80, -19), (90, -15), (100, -11.5), (110, -8.5), (120, -6), (130, -4), (150, -2), (175, -0.5), (200, 0.5)]
marks_55 = [(17, -10), (19, -8.6), (52, -13.4), (42, 1.6)]
yticks_55 = [-40, -30, -20, -10, 0]

panels = [
    (nn_11, filt_11, fem_11, true_11, marks_11, yticks_11),
    (nn_12, filt_12, fem_12, true_12, marks_12, yticks_12),
    (nn_13, filt_13, fem_13, true_13, marks_13, yticks_13),
    (nn_14, filt_14, fem_14, true_14, marks_14, yticks_14),
    (nn_15, filt_15, fem_15, true_15, marks_15, yticks_15),
    (nn_21, filt_21, fem_21, true_21, marks_21, yticks_21),
    (nn_22, filt_22, fem_22, true_22, marks_22, yticks_22),
    (nn_23, filt_23, fem_23, true_23, marks_23, yticks_23),
    (nn_24, filt_24, fem_24, true_24, marks_24, yticks_24),
    (nn_25, filt_25, fem_25, true_25, marks_25, yticks_25),
    (nn_31, filt_31, fem_31, true_31, marks_31, yticks_31),
    (nn_32, filt_32, fem_32, true_32, marks_32, yticks_32),
    (nn_33, filt_33, fem_33, true_33, marks_33, yticks_33),
    (nn_34, filt_34, fem_34, true_34, marks_34, yticks_34),
    (nn_35, filt_35, fem_35, true_35, marks_35, yticks_35),
    (nn_41, filt_41, fem_41, true_41, marks_41, yticks_41),
    (nn_42, filt_42, fem_42, true_42, marks_42, yticks_42),
    (nn_43, filt_43, fem_43, true_43, marks_43, yticks_43),
    (nn_44, filt_44, fem_44, true_44, marks_44, yticks_44),
    (nn_45, filt_45, fem_45, true_45, marks_45, yticks_45),
    (nn_51, filt_51, fem_51, true_51, marks_51, yticks_51),
    (nn_52, filt_52, fem_52, true_52, marks_52, yticks_52),
    (nn_53, filt_53, fem_53, true_53, marks_53, yticks_53),
    (nn_54, filt_54, fem_54, true_54, marks_54, yticks_54),
    (nn_55, filt_55, fem_55, true_55, marks_55, yticks_55),
]


def draw_panel(ax, nn, filt, fem, true, marks, yticks, palette):
    rows = []
    for name, pts in zip(series, (nn, filt, fem, true)):
        rows += [(name, x, y) for x, y in pts]
    df = pd.DataFrame(rows, columns=["series", "t", "v"])
    sns.lineplot(data=df, x="t", y="v", hue="series", hue_order=series,
                 palette=palette, estimator=None, sort=False, legend=False,
                 linewidth=1.0, ax=ax)
    mdf = pd.DataFrame({"series": series,
                        "t": [m[0] for m in marks],
                        "v": [m[1] for m in marks]})
    sns.scatterplot(data=mdf, x="t", y="v", hue="series", hue_order=series,
                    palette=palette, s=16, linewidth=0, legend=False,
                    ax=ax, zorder=5)
    ax.set_xticks([0, 50, 100, 150, 200])
    ax.set_yticks(yticks)
    ax.set_xlabel("")
    ax.set_ylabel("")
    ax.tick_params(labelsize=6.5, length=2.5, width=0.6, colors="#333333",
                   pad=1.5)
    for sp in ax.spines.values():
        sp.set_color("#888888")
        sp.set_linewidth(0.8)


def main():
    sns.set_theme(style="ticks")
    palette = dict(zip(series, sns.color_palette("tab10", 4)))

    fig, axes = plt.subplots(5, 5, figsize=(9.04, 6.62), dpi=100)
    fig.subplots_adjust(left=33 / 904, right=902.5 / 904,
                        top=1 - 71 / 662, bottom=1 - 646 / 662,
                        wspace=0.2, hspace=0.2)

    for ax, p in zip(axes.flat, panels):
        draw_panel(ax, *p, palette)

    handles = [Line2D([], [], color=palette[s], marker="o", linewidth=2.2,
                      markersize=6) for s in series]
    leg = fig.legend(handles, series, loc="upper center",
                     bbox_to_anchor=(0.513, 0.993), ncol=4, fontsize=13,
                     frameon=True, handlelength=2.1, columnspacing=2.2,
                     borderaxespad=0)
    leg.get_frame().set_edgecolor("0.8")

    fig.savefig("out.png", dpi=100, facecolor="white")
    plt.close(fig)


if __name__ == "__main__":
    main()
